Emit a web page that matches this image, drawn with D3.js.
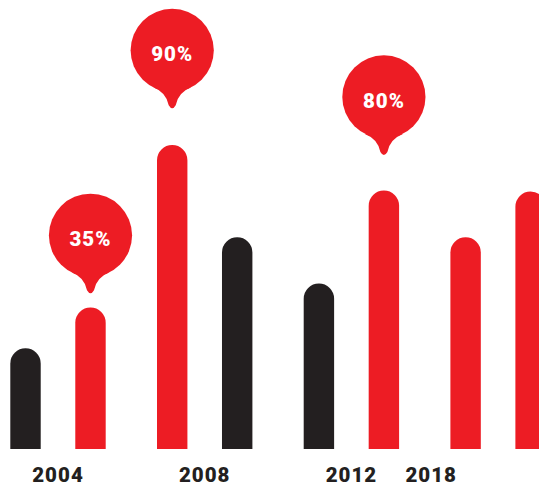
<!DOCTYPE html>
<html lang="en">
<head>
	<meta charset="UTF-8">
	<title>Pin bars</title>
	<script src="https://cdn.jsdelivr.net/npm/d3@7"></script>
	<style>
		html, body { margin: 0; padding: 0; background: #fff; }
		svg { display: block; }
		text { font-family: Roboto, "Noto Sans", sans-serif; font-weight: 900; }
	</style>
</head>
<body>
	<div id="vis"></div>

	<script>
		// data
		var barGroup = [0, 0, 1, 1, 2, 2, 3, 3];
		var barSlot = [0, 1, 0, 1, 0, 1, 0, 1];
		var barValue = [29.6, 41.6, 89.4, 62.3, 48.7, 76, 62.3, 75.7];
		var barKind = ["dark", "red", "red", "dark", "dark", "red", "red", "red"];

		var yearLabel = ["2004", "2008", "2012", "2018"];
		var yearAt = [0, 1, 2, 2.544];   // in group units, 2018 sits off its pair

		var pinBar = [1, 2, 5];
		var pinText = ["35%", "90%", "80%"];
		var pinTip = [45.5, 99.9, 86.2];  // where the pin's tip points, in y units

		var width = 539;
		var height = 487;
		var colors = { dark: "#231f20", red: "#ed1c24" };

		var svg = d3.select("#vis").append("svg")
				.attr("width", width)
				.attr("height", height);

		// scales
		var groups = d3.range(4);
		var xGroup = d3.scaleBand()
				.domain(groups)
				.range([10.3, 10.3 + 4 * 146.7]);

		var xSlot = d3.scaleBand()
				.domain([0, 1])
				.range([0, 95.4])
				.paddingInner(0.532);

		var bw = xSlot.bandwidth();

		var xCenter = d3.scaleLinear()
				.domain([0, 1])
				.range([10.3 + 95.4 / 2, 10.3 + 146.7 + 95.4 / 2]);

		var y = d3.scaleLinear()
				.domain([0, 100])
				.range([449, 109]);

		function barX(i) {
			return xGroup(barGroup[i]) + xSlot(barSlot[i]);
		}

		// bar with round top
		function barPath(x, top, bottom, w) {
			var r = w / 2;
			return "M" + x + "," + bottom +
				"L" + x + "," + (top + r) +
				"A" + r + "," + r + " 0 0 1 " + (x + w) + "," + (top + r) +
				"L" + (x + w) + "," + bottom + "Z";
		}

		svg.append("g").selectAll("path")
			.data(barValue)
			.join("path")
				.attr("d", function(d, i) { return barPath(barX(i), y(d), y(0), bw); })
				.attr("fill", function(d, i) { return colors[barKind[i]]; });

		// year labels
		svg.append("g").selectAll("text")
			.data(yearLabel)
			.join("text")
				.attr("x", function(d, i) { return xCenter(yearAt[i]); })
				.attr("y", 482.3)
				.attr("text-anchor", "middle")
				.attr("font-size", 20.5)
				.attr("letter-spacing", 1)
				.attr("fill", colors.dark)
				.text(function(d) { return d; });

		// pins
		var R = 41.6;
		function pinPath(cx, cy) {
			var s = 19, a = Math.sqrt(R * R - s * s);
			return "M" + (cx - s) + "," + (cy + a) +
				"Q" + (cx - 6) + "," + (cy + a + 5) + " " + (cx - 3.5) + "," + (cy + 55) +
				"Q" + cx + "," + (cy + 61) + " " + (cx + 3.5) + "," + (cy + 55) +
				"Q" + (cx + 6) + "," + (cy + a + 5) + " " + (cx + s) + "," + (cy + a) + "Z";
		}

		var pins = svg.append("g").selectAll("g")
			.data(pinText)
			.join("g")
				.attr("transform", function(d, i) {
					var b = pinBar[i];
					return "translate(" + (barX(b) + bw / 2) + "," + (y(pinTip[i]) - 59) + ")";
				});

		pins.append("circle")
			.attr("r", R)
			.attr("fill", colors.red);

		pins.append("path")
			.attr("d", pinPath(0, 0))
			.attr("fill", colors.red);

		pins.append("text")
			.attr("y", 11)
			.attr("text-anchor", "middle")
			.attr("font-size", 20.5)
			.attr("letter-spacing", 1)
			.attr("fill", "#fff")
			.text(function(d) { return d; });
	</script>
</body>
</html>
